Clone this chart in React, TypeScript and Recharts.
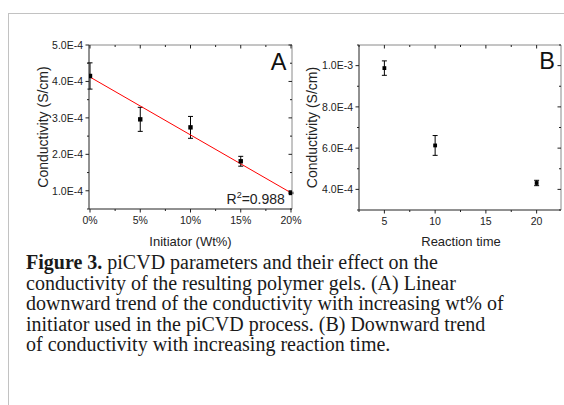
import React from 'react';
import { ScatterChart, Scatter, XAxis, YAxis, ErrorBar } from 'recharts';

// ---- Panel A data ----
const initiatorPct = [0, 5, 10, 15, 20];
const condA = [4.15e-4, 2.96e-4, 2.74e-4, 1.81e-4, 0.94e-4];
const errA = [0.36e-4, 0.33e-4, 0.3e-4, 0.135e-4, 0.02e-4];
const fitX = [0, 20];
const fitY = [4.12e-4, 0.945e-4];
const r2Text = '0.988';

// ---- Panel B data ----
const reactionTime = [5, 10, 20];
const condB = [9.88e-4, 6.13e-4, 4.31e-4];
const errB = [0.35e-4, 0.48e-4, 0.13e-4];

// ---- ticks ----
const xTicksA = [0, 5, 10, 15, 20];
const xMinorA = [2.5, 7.5, 12.5, 17.5];
const yTicksA = [1e-4, 2e-4, 3e-4, 4e-4, 5e-4];
const yMinorA = [0.5e-4, 1.5e-4, 2.5e-4, 3.5e-4, 4.5e-4];
const xTicksB = [5, 10, 15, 20];
const xMinorB = [2.5, 7.5, 12.5, 17.5];
const yTicksB = [4e-4, 6e-4, 8e-4, 1e-3];
const yMinorB = [3e-4, 5e-4, 7e-4, 9e-4, 1.1e-3];

const dataA = initiatorPct.map((x, i) => ({ x, y: condA[i], err: errA[i] }));
const fitA = fitX.map((x, i) => ({ x, y: fitY[i] }));
const dataB = reactionTime.map((x, i) => ({ x, y: condB[i], err: errB[i] }));

const FONT = "'Liberation Sans', Arial, sans-serif";
const DARK = '#222';
const LIGHT = '#8a8a8a';

const pctFmt = (v: number) => `${v}%`;
const numFmt = (v: number) => `${v}`;
const expFmt = (v: number) => v.toExponential(1).toUpperCase();

function BottomTick(props: any) {
  const { x, y, payload, majors, fmt } = props;
  const v = payload.value;
  const major = majors.includes(v);
  return (
    <g>
      <line x1={x} y1={y} x2={x} y2={y + (major ? 3.5 : 2)} stroke={DARK} strokeWidth={1} />
      {major && (
        <text x={x} y={y + 14.5} textAnchor="middle" fontSize={10.5} fontFamily={FONT} fill={DARK}>
          {fmt(v)}
        </text>
      )}
    </g>
  );
}

function LeftTick(props: any) {
  const { x, y, payload, majors, fmt } = props;
  const v = payload.value;
  const major = majors.includes(v);
  return (
    <g>
      <line x1={x} y1={y} x2={x - (major ? 3.5 : 2)} y2={y} stroke={DARK} strokeWidth={1} />
      {major && (
        <text x={x - 6} y={y + 3.8} textAnchor="end" fontSize={10.5} fontFamily={FONT} fill={DARK}>
          {fmt(v)}
        </text>
      )}
    </g>
  );
}

function TopTick(props: any) {
  const { x, y, payload, majors } = props;
  const major = majors.includes(payload.value);
  return <line x1={x} y1={y} x2={x} y2={y + (major ? 3.5 : 2)} stroke={DARK} strokeWidth={1} />;
}

function RightTick(props: any) {
  const { x, y, payload, majors } = props;
  const major = majors.includes(payload.value);
  return <line x1={x} y1={y} x2={x - (major ? 3.5 : 2)} y2={y} stroke={DARK} strokeWidth={1} />;
}

const squareA = (p: any) => <rect x={p.cx - 2.2} y={p.cy - 2.2} width={4.4} height={4.4} fill="#000" />;
const squareB = (p: any) => <rect x={p.cx - 1.9} y={p.cy - 1.9} width={3.8} height={3.8} fill="#000" />;
const noShape = () => <g />;

function Frame({
  xDomain, yDomain, xMaj, xMin, yMaj, yMin, xFmt,
}: any) {
  const xAll = [...xMaj, ...xMin].sort((a: number, b: number) => a - b);
  const yAll = [...yMaj, ...yMin].sort((a: number, b: number) => a - b);
  return [
    <XAxis
      key="xb"
      xAxisId="b"
      type="number"
      dataKey="x"
      domain={xDomain}
      allowDataOverflow
      ticks={xAll}
      interval={0}
      height={30}
      tickSize={0}
      tickMargin={0}
      tickLine={false}
      axisLine={{ stroke: DARK, strokeWidth: 1 }}
      tick={<BottomTick majors={xMaj} fmt={xFmt} />}
    />,
    <XAxis
      key="xt"
      xAxisId="t"
      orientation="top"
      type="number"
      dataKey="x"
      domain={xDomain}
      allowDataOverflow
      ticks={xAll}
      interval={0}
      height={1}
      tickSize={0}
      tickMargin={0}
      tickLine={false}
      axisLine={{ stroke: LIGHT, strokeWidth: 1 }}
      tick={<TopTick majors={xMaj} />}
    />,
    <YAxis
      key="yl"
      yAxisId="l"
      type="number"
      dataKey="y"
      domain={yDomain}
      allowDataOverflow
      ticks={yAll}
      interval={0}
      width={60}
      tickSize={0}
      tickMargin={0}
      tickLine={false}
      axisLine={{ stroke: DARK, strokeWidth: 1 }}
      tick={<LeftTick majors={yMaj} fmt={expFmt} />}
    />,
    <YAxis
      key="yr"
      yAxisId="r"
      orientation="right"
      type="number"
      dataKey="y"
      domain={yDomain}
      allowDataOverflow
      ticks={yAll}
      interval={0}
      width={1}
      tickSize={0}
      tickMargin={0}
      tickLine={false}
      axisLine={{ stroke: LIGHT, strokeWidth: 1 }}
      tick={<RightTick majors={yMaj} />}
    />,
  ];
}

export default function App() {
  return (
    <div style={{ position: 'absolute', left: 0, top: 0, width: 564, height: 405, background: '#fff', overflow: 'hidden' }}>
      <div
        style={{
          position: 'absolute', left: 8, top: 13, width: 556, height: 392,
          borderTop: '1px solid #c2c2c2', borderLeft: '1px solid #c2c2c2', boxSizing: 'border-box',
        }}
      />
      <div style={{ position: 'absolute', left: 0, top: 0 }}>
        <ScatterChart width={310} height={260} margin={{ top: 44, right: 17, bottom: 21, left: 29 }}>
          {Frame({ xDomain: [-0.1, 20.1], yDomain: [0.5e-4, 5e-4], xMaj: xTicksA, xMin: xMinorA, yMaj: yTicksA, yMin: yMinorA, xFmt: pctFmt })}
          <Scatter xAxisId="t" yAxisId="r" data={fitA} line={{ stroke: '#ff0000', strokeWidth: 1 }} shape={noShape} isAnimationActive={false} />
          <Scatter xAxisId="b" yAxisId="l" data={dataA} shape={squareA} isAnimationActive={false}>
            <ErrorBar dataKey="err" direction="y" width={2.5} stroke="#000" strokeWidth={1} isAnimationActive={false} />
          </Scatter>
        </ScatterChart>
      </div>
      <div style={{ position: 'absolute', left: 290, top: 0 }}>
        <ScatterChart width={274} height={260} margin={{ top: 44, right: 2, bottom: 20, left: 9 }}>
          {Frame({ xDomain: [2.5, 22.4], yDomain: [3e-4, 1.1e-3], xMaj: xTicksB, xMin: xMinorB, yMaj: yTicksB, yMin: yMinorB, xFmt: numFmt })}
          <Scatter xAxisId="b" yAxisId="l" data={dataB} shape={squareB} isAnimationActive={false}>
            <ErrorBar dataKey="err" direction="y" width={2.5} stroke="#000" strokeWidth={1} isAnimationActive={false} />
          </Scatter>
        </ScatterChart>
      </div>
      <svg width={564} height={260} style={{ position: 'absolute', left: 0, top: 0, pointerEvents: 'none' }}>
        <g fontFamily={FONT} fill={DARK}>
          <text x={43} y={127} fontSize={14} textAnchor="middle" dominantBaseline="central" transform="rotate(-90 43 127)">
            Conductivity (S/cm)
          </text>
          <text x={312} y={127.5} fontSize={14} textAnchor="middle" dominantBaseline="central" transform="rotate(-90 312 127.5)">
            Conductivity (S/cm)
          </text>
          <text x={190.5} y={245.5} fontSize={13} textAnchor="middle">Initiator (Wt%)</text>
          <text x={461} y={245.5} fontSize={13} textAnchor="middle">Reaction time</text>
          <text x={286.5} y={70} fontSize={23.5} textAnchor="end" fill="#111">A</text>
          <text x={555} y={68.5} fontSize={23.5} textAnchor="end" fill="#111">B</text>
          <text x={226.5} y={203.5} fontSize={14}>
            R<tspan fontSize={9} dy={-5.5}>2</tspan>
            <tspan dy={5.5}>={r2Text}</tspan>
          </text>
        </g>
      </svg>
      <div
        style={{
          position: 'absolute', left: 26, top: 252, width: 536, whiteSpace: 'nowrap',
          fontFamily: "'Liberation Serif', 'Times New Roman', serif", fontSize: 20, lineHeight: '20.6px', color: '#1a1a1a',
        }}
      >
        <b>Figure 3.</b> piCVD parameters and their effect on the<br />
        conductivity of the resulting polymer gels. (A) Linear<br />
        downward trend of the conductivity with increasing wt% of<br />
        initiator used in the piCVD process. (B) Downward trend<br />
        of conductivity with increasing reaction time.
      </div>
    </div>
  );
}
